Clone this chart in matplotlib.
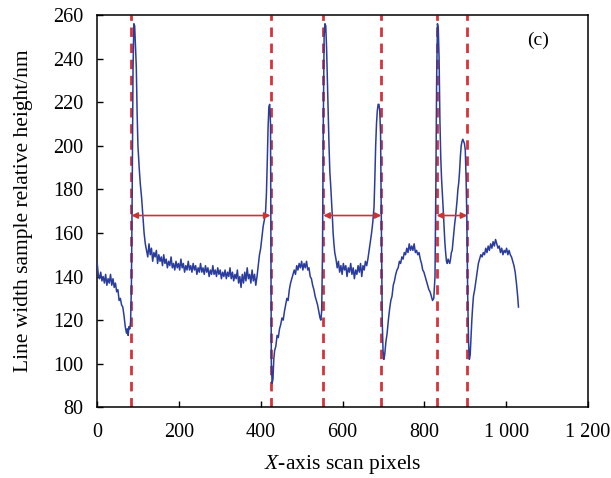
import matplotlib
matplotlib.use("Agg")
import matplotlib.pyplot as plt

plt.rcParams['font.family'] = ['Liberation Serif', 'DejaVu Serif']
plt.rcParams['mathtext.fontset'] = 'custom'
plt.rcParams['mathtext.rm'] = 'Liberation Serif'
plt.rcParams['mathtext.it'] = 'Liberation Serif:italic'

# ---- data ----
scan_x = [0, 3, 6, 9, 12, 15, 18, 21, 24, 27, 30, 33, 36, 39, 42, 45, 48, 51, 54, 57,
          60, 63, 66, 69, 72, 74, 76, 78, 80, 82, 84, 86, 88, 90, 92, 94, 96, 98, 100, 103,
          106, 109, 112, 115, 118, 121, 124, 127, 130, 133, 136, 139, 142, 145, 148, 151, 154, 157, 160, 163,
          166, 169, 172, 175, 178, 181, 184, 187, 190, 193, 196, 199, 202, 205, 208, 211, 214, 217, 220, 223,
          226, 229, 232, 235, 238, 241, 244, 247, 250, 253, 256, 259, 262, 265, 268, 271, 274, 277, 280, 283,
          286, 289, 292, 295, 298, 301, 304, 307, 310, 313, 316, 319, 322, 325, 328, 331, 334, 337, 340, 343,
          346, 349, 352, 355, 358, 361, 364, 367, 370, 373, 376, 379, 382, 385, 388, 391, 394, 397, 400, 403,
          406, 409, 412, 414, 416, 418, 420, 422, 424, 425, 426, 428, 430, 432, 434, 437, 440, 443, 446, 449,
          452, 455, 458, 461, 464, 467, 470, 473, 476, 479, 482, 485, 488, 491, 494, 497, 500, 503, 506, 509,
          512, 515, 518, 521, 524, 527, 530, 533, 536, 539, 542, 545, 547, 549, 551, 553, 555, 557, 559, 561,
          563, 565, 567, 569, 571, 573, 575, 577, 579, 581, 584, 587, 590, 593, 596, 599, 602, 605, 608, 611,
          614, 617, 620, 623, 626, 629, 632, 635, 638, 641, 644, 647, 650, 653, 656, 659, 662, 665, 668, 671,
          674, 677, 679, 681, 683, 685, 687, 689, 691, 693, 695, 697, 699, 701, 703, 706, 709, 712, 715, 718,
          721, 724, 727, 730, 733, 736, 739, 742, 745, 748, 751, 754, 757, 760, 763, 766, 769, 772, 775, 778,
          781, 784, 787, 790, 793, 796, 799, 802, 805, 808, 811, 814, 817, 820, 823, 826, 828, 830, 832, 834,
          836, 838, 840, 842, 844, 846, 848, 850, 852, 854, 856, 858, 860, 862, 864, 866, 868, 870, 872, 874,
          876, 878, 880, 882, 884, 886, 888, 890, 892, 894, 896, 898, 900, 902, 904, 906, 908, 910, 912, 914,
          916, 918, 920, 923, 926, 929, 932, 935, 938, 941, 944, 947, 950, 953, 956, 959, 962, 965, 968, 971,
          974, 977, 980, 983, 986, 989, 992, 995, 998, 1001, 1004, 1007, 1010, 1013, 1016, 1019, 1022, 1025, 1028, 1030]
height_nm = [147, 141, 139, 142, 138, 140, 137, 141, 136, 139, 137, 141, 136, 139, 135, 137, 133, 134, 129, 130,
             127, 126, 122, 117, 114, 116, 113, 117, 116, 119, 135, 180, 235, 256, 255, 245, 236, 215, 200, 190,
             182, 176, 168, 160, 155, 152, 149, 155, 150, 153, 147, 151, 149, 152, 146, 150, 147, 149, 145, 150,
             146, 148, 144, 147, 145, 149, 144, 146, 143, 147, 144, 146, 143, 148, 144, 146, 142, 145, 143, 147,
             143, 145, 142, 146, 143, 145, 141, 144, 142, 146, 142, 144, 141, 145, 142, 144, 140, 143, 141, 145,
             141, 143, 140, 144, 141, 143, 139, 142, 140, 143, 139, 142, 140, 144, 139, 142, 138, 141, 139, 143,
             137, 140, 135, 141, 137, 142, 138, 144, 139, 141, 137, 143, 138, 141, 136, 140, 145, 150, 153, 158,
             163, 166, 170, 178, 192, 208, 218, 219, 210, 150, 100, 91, 93, 102, 106, 108, 113, 112, 116, 118,
             121, 120, 124, 127, 130, 129, 134, 137, 139, 141, 143, 141, 145, 143, 146, 144, 147, 143, 146, 144,
             147, 143, 144, 140, 139, 136, 134, 131, 129, 127, 124, 121, 120, 124, 150, 210, 250, 256, 255, 245,
             230, 215, 200, 188, 182, 175, 168, 160, 155, 151, 148, 144, 147, 142, 145, 141, 146, 143, 145, 140,
             144, 142, 146, 141, 144, 139, 143, 141, 145, 142, 146, 140, 145, 143, 147, 145, 148, 152, 156, 160,
             165, 172, 185, 200, 210, 216, 219, 219, 216, 205, 160, 120, 106, 102, 104, 110, 114, 120, 125, 129,
             131, 136, 138, 141, 143, 144, 147, 146, 149, 148, 151, 150, 153, 151, 155, 152, 154, 152, 155, 151,
             152, 150, 151, 148, 146, 143, 142, 140, 138, 136, 134, 133, 131, 129, 130, 140, 180, 230, 256, 254,
             240, 212, 195, 185, 178, 171, 163, 156, 151, 147, 146, 148, 147, 146, 148, 151, 152, 156, 160, 164,
             167, 171, 175, 180, 183, 188, 195, 200, 202, 203, 202, 201, 198, 185, 165, 130, 110, 102, 104, 112,
             120, 126, 131, 134, 138, 142, 146, 148, 150, 149, 151, 150, 153, 151, 154, 152, 155, 153, 156, 154,
             157, 155, 153, 154, 151, 153, 150, 152, 151, 153, 150, 152, 150, 149, 147, 145, 142, 137, 131, 126]
edge_x = [84, 424, 553, 695, 830, 905]
width_pairs = [(84, 424), (553, 695), (830, 905)]
arrow_y = 168
x_ticks = [0, 200, 400, 600, 800, 1000, 1200]
x_tick_labels = ['0', '200', '400', '600', '800', '1 000', '1 200']
y_ticks = [80, 100, 120, 140, 160, 180, 200, 220, 240, 260]

fig = plt.figure(figsize=(6.11, 4.78), dpi=100)
ax = fig.add_axes([0.1588, 0.1479, 0.8036, 0.8207])

for ex in edge_x:
    ax.axvline(ex, color='#d6333a', lw=2.0, linestyle=(0, (3.4, 2.4)), zorder=2)

ax.plot(scan_x, height_nm, color='#2a3c9c', lw=1.1, zorder=3)

for a, b in width_pairs:
    ax.annotate('', xy=(b, arrow_y), xytext=(a, arrow_y),
                arrowprops=dict(arrowstyle='<|-|>', color='#cc3333', lw=1.2,
                                mutation_scale=9, shrinkA=0, shrinkB=0), zorder=4)

ax.text(1078, 248.5, '(c)', fontsize=14, ha='center', va='center')

ax.set_xlim(0, 1200)
ax.set_ylim(80, 260)
ax.set_xticks(x_ticks)
ax.set_xticklabels(x_tick_labels)
ax.set_yticks(y_ticks)
ax.tick_params(direction='in', length=4, width=1, labelsize=14.5)
ax.tick_params(axis='x', pad=11)
ax.tick_params(axis='y', pad=10)
for s in ax.spines.values():
    s.set_linewidth(1.1)

ax.set_xlabel(r'$\mathit{X}$-axis scan pixels', fontsize=15.5, labelpad=8)
ax.set_ylabel('Line width sample relative height/nm', fontsize=15.5, labelpad=14)

fig.savefig('out.png', dpi=100)
